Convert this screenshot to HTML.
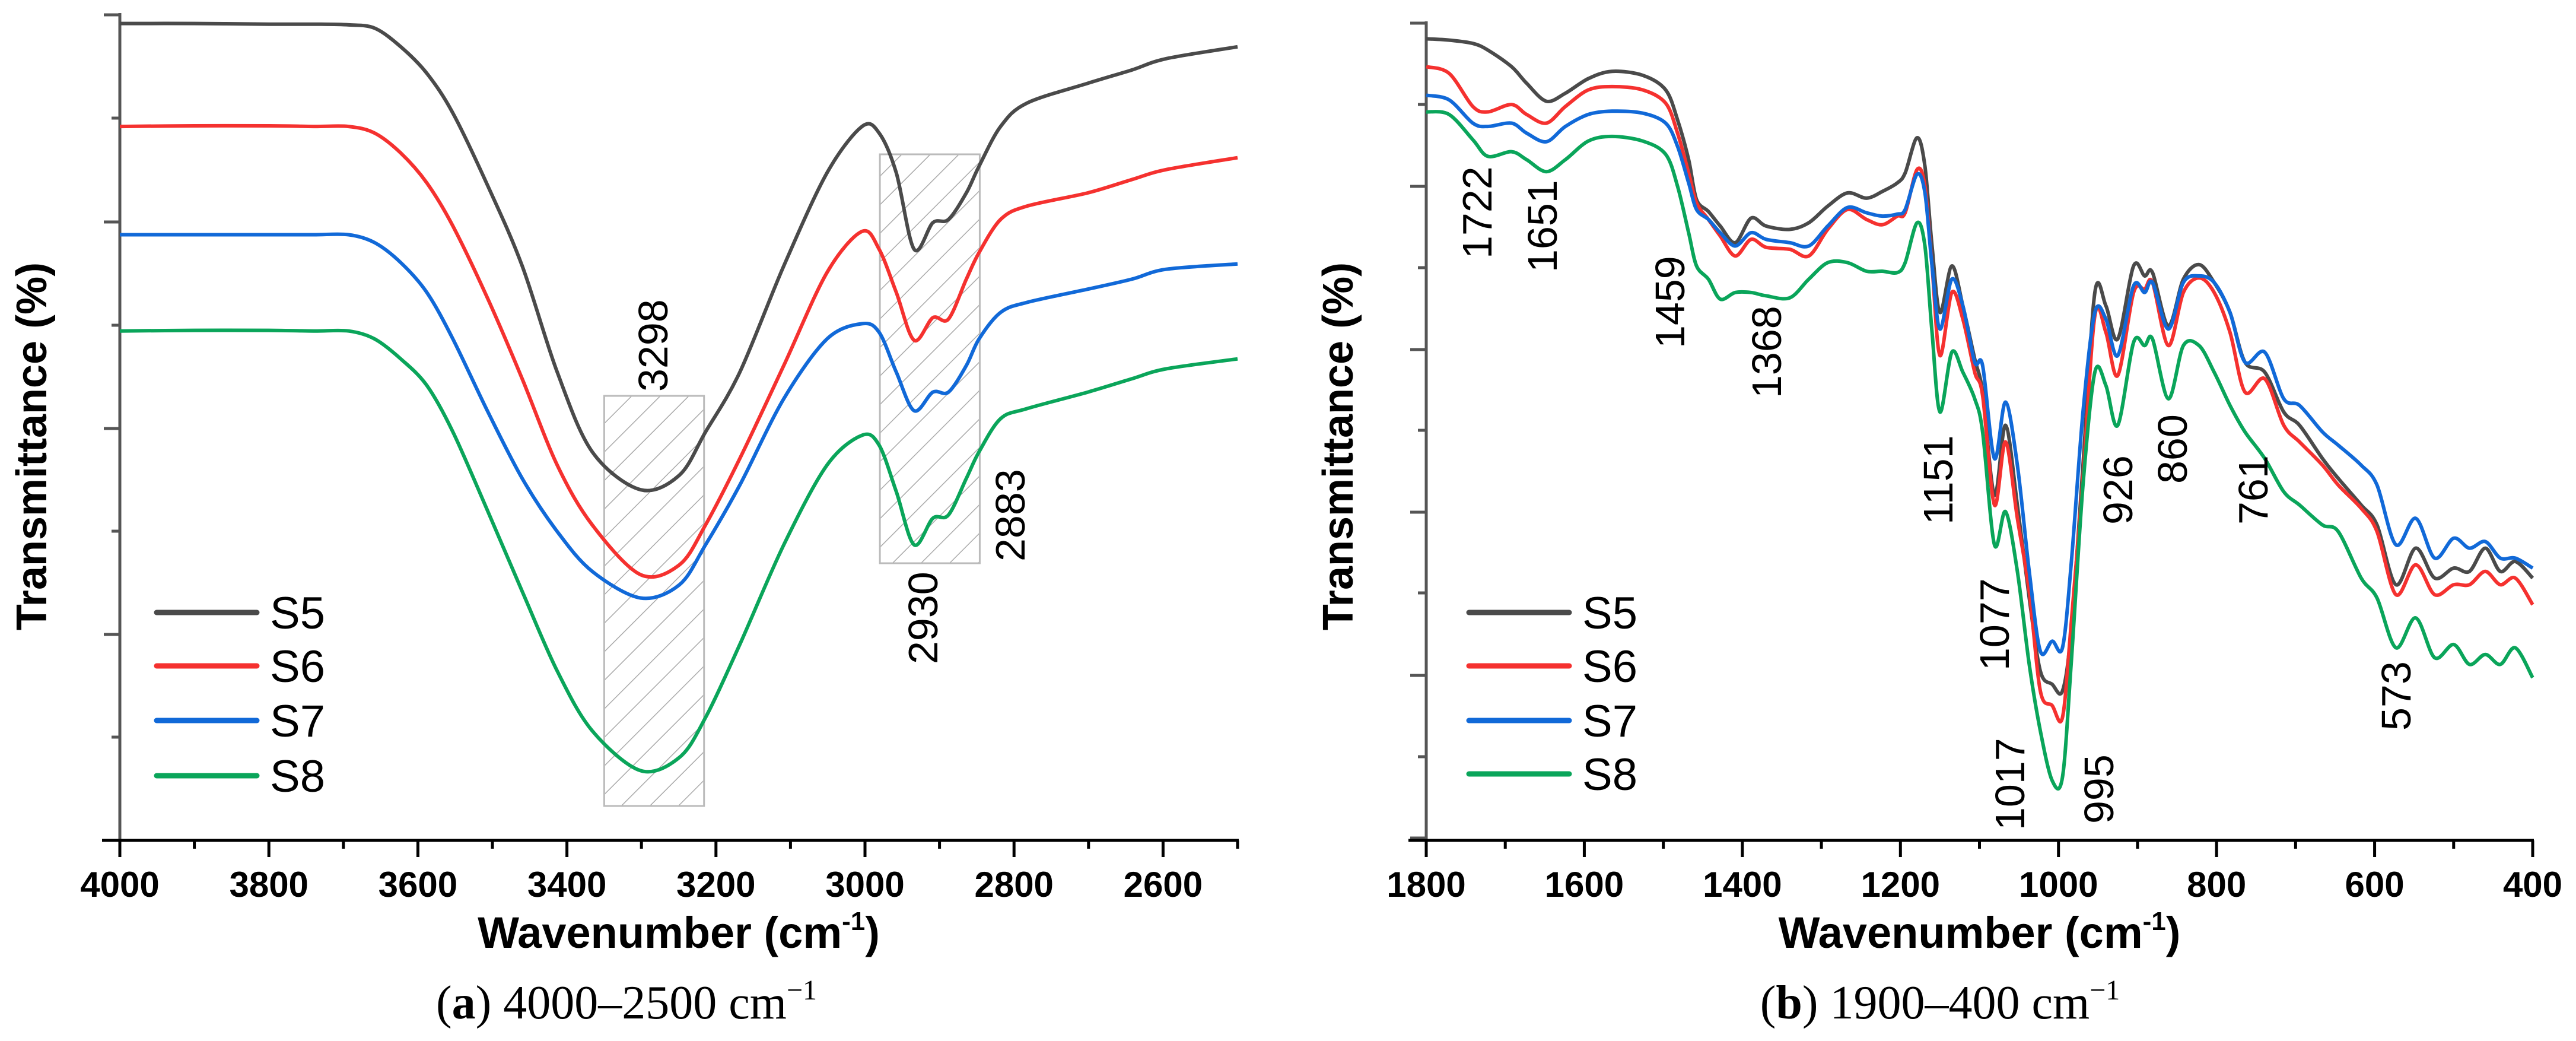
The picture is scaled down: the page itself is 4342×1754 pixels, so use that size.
<!DOCTYPE html>
<html><head><meta charset="utf-8">
<style>
html,body{margin:0;padding:0;background:#fff;}
svg{display:block;}
text{font-family:"Liberation Sans",Arial,sans-serif;}
</style></head>
<body>
<svg id="fig" width="4342" height="1754" viewBox="0 0 4342 1754" xmlns="http://www.w3.org/2000/svg">
<defs>
<pattern id="hatch" patternUnits="userSpaceOnUse" width="34" height="34" patternTransform="rotate(45)">
<line x1="0" y1="0" x2="0" y2="34" stroke="#aaaaaa" stroke-width="3"/>
</pattern>
</defs>
<g id="panelA"></g>
<g id="panelB"></g>
</svg>
<script>
// ---------- Panel A data (4000-2500 cm-1), transmittance in arbitrary units ----------
const aWavenumbers = [4000,3900,3800,3740,3693,3658,3623,3588,3553,3506,3460,3413,3366,3301,3249,3214,3168,3109,3051,3004,2981,2958,2934,2909,2888,2864,2847,2818,2783,2701,2642,2596,2500];
const aS5 = [1230,1230,1229,1229,1228,1223,1195,1155,1095,985,865,705,585,528,550,615,705,865,1005,1075,1065,1005,890,930,935,975,1015,1075,1110,1140,1160,1177,1195];
const aS6 = [1075,1076,1076,1075,1075,1065,1035,990,925,815,695,565,475,400,415,475,575,715,855,917,890,825,753,787,785,845,885,935,955,975,995,1010,1028];
const aS7 = [912,912,912,912,912,900,870,825,755,645,545,465,405,365,385,445,535,665,755,778,765,705,647,675,675,715,755,795,810,830,845,860,868];
const aS8 = [767,768,768,767,767,755,725,685,615,495,375,255,165,105,125,185,295,445,565,610,595,525,445,485,490,545,585,635,650,675,695,710,725];
const aTickLabels = ["4000","3800","3600","3400","3200","3000","2800","2600"];
const aTickValues = [4000,3800,3600,3400,3200,3000,2800,2600];
const aPeakLabels = ["3298","2930","2883"];

// ---------- Panel B data (1800-400 cm-1) ----------
const bWavenumbers = [1800,1771,1741,1722,1692,1673,1648,1624,1595,1565,1526,1497,1482,1468,1458,1443,1428,1409,1389,1370,1340,1316,1292,1267,1243,1223,1204,1194,1179,1169,1160,1150,1135,1121,1106,1096,1081,1067,1052,1037,1023,1008,995,984,969,954,940,925,905,891,881,861,842,822,803,783,764,739,715,695,666,646,617,597,573,548,524,500,480,460,441,422,400];
const bS5 = [1207,1205,1200,1190,1165,1140,1113,1125,1147,1158,1152,1130,1085,1025,965,947,925,900,937,925,920,930,955,975,967,977,990,1005,1058,1015,895,795,865,805,725,675,520,625,505,365,255,235,225,315,565,825,805,755,865,850,855,775,845,867,840,795,720,705,645,625,575,545,505,475,385,440,395,410,405,440,405,420,395];
const bS6 = [1165,1155,1105,1097,1108,1093,1080,1105,1130,1135,1130,1110,1065,1005,960,935,910,880,905,893,890,880,920,950,935,927,940,945,1010,985,865,730,825,785,705,670,505,600,485,375,225,203,185,325,545,790,765,700,825,830,840,745,825,847,825,765,675,695,625,600,565,535,500,465,370,415,370,385,385,405,385,395,355];
const bS7 = [1122,1115,1080,1075,1080,1065,1052,1075,1093,1098,1095,1080,1045,990,950,935,915,895,915,905,900,895,925,953,945,940,943,950,1003,975,865,770,845,805,720,715,575,660,565,405,285,300,290,415,645,795,785,730,835,825,840,770,840,850,840,795,720,735,665,655,615,595,565,535,445,485,425,455,440,450,425,425,410];
const bS8 = [1097,1093,1055,1030,1037,1025,1007,1025,1053,1060,1053,1033,985,915,865,845,815,825,825,820,817,845,870,870,857,857,855,870,930,895,765,645,735,705,665,615,445,495,405,265,165,90,95,265,535,705,685,625,750,745,755,665,745,745,705,655,615,575,525,505,475,465,395,365,290,335,275,295,265,280,265,290,245];
const bTickLabels = ["1800","1600","1400","1200","1000","800","600","400"];
const bTickValues = [1800,1600,1400,1200,1000,800,600,400];
const bPeakLabels = ["1722","1651","1459","1368","1151","1077","1017","995","926","860","761","573"];

const seriesNames = ["S5","S6","S7","S8"];
const seriesColors = ["#4a4a4a","#f5312f","#1169d8","#0aa55a"];

const NS = "http://www.w3.org/2000/svg";
function mk(parent, tag, attrs, txt){
  const e = document.createElementNS(NS, tag);
  for (const k in attrs) e.setAttribute(k, attrs[k]);
  if (txt !== undefined) e.textContent = txt;
  parent.appendChild(e);
  return e;
}
const Y0 = 1416, YK = 1.119;
function yScale(v){ return Y0 - v*YK; }

function smoothPath(pts){
  let d = "M" + pts[0][0].toFixed(1) + "," + pts[0][1].toFixed(1);
  for (let i=0;i<pts.length-1;i++){
    const p0 = pts[Math.max(0,i-1)], p1 = pts[i], p2 = pts[i+1], p3 = pts[Math.min(pts.length-1,i+2)];
    const t = 0.16;
    const c1x = p1[0] + (p2[0]-p0[0])*t, c1y = p1[1] + (p2[1]-p0[1])*t;
    const c2x = p2[0] - (p3[0]-p1[0])*t, c2y = p2[1] - (p3[1]-p1[1])*t;
    d += " C" + c1x.toFixed(1)+","+c1y.toFixed(1)+" "+c2x.toFixed(1)+","+c2y.toFixed(1)+" "+p2[0].toFixed(1)+","+p2[1].toFixed(1);
  }
  return d;
}

function drawPanel(g, cfg){
  const xScale = w => cfg.x0 + (cfg.wMax - w)/(cfg.wMax - cfg.wMin)*(cfg.x1 - cfg.x0);
  const ya = mk(g, "line", {x1:cfg.x0, y1:cfg.yTop-3, x2:cfg.x0, y2:Y0+3, stroke:"#555", "stroke-width":5});
  
  
  cfg.yTicks.forEach((ty,i)=>{
    const len = cfg.yMajor.includes(i) ? 27 : 14;
    const t = mk(g, "line", {x1:cfg.x0-len, y1:ty, x2:cfg.x0, y2:ty, stroke:"#555", "stroke-width":5});
    
    
  });
  const xa = mk(g, "line", {x1:cfg.x0-30, y1:Y0, x2:cfg.x1+2, y2:Y0, stroke:"#000", "stroke-width":5});
  
  
  for (let w = cfg.wMax; w >= cfg.wMin - 0.1; w -= cfg.minorStep){
    const major = Math.abs((cfg.wMax - w) % cfg.majorStep) < 0.1;
    const t = mk(g, "line", {x1:xScale(w), y1:Y0, x2:xScale(w), y2:Y0 + (major?28:14), stroke:"#000", "stroke-width":5});
    
    
  }
  cfg.tickValues.forEach((v,i)=>{
    const t = mk(g, "text", {x:xScale(v), y:1511, "text-anchor":"middle", "font-size":60, "font-weight":"bold", fill:"#000"}, cfg.tickLabels[i]);
    
    
  });
  const xt = mk(g, "text", {x:(cfg.x0+cfg.x1)/2, y:1597, "text-anchor":"middle", "font-size":74, "font-weight":"bold", fill:"#000"});
  
  
  xt.appendChild(document.createTextNode("Wavenumber (cm"));
  mk(xt, "tspan", {"font-size":44, dy:-30}, "-1");
  mk(xt, "tspan", {dy:30}, ")");
  const yt = mk(g, "text", {x:0, y:0, transform:"translate("+cfg.yTitleX+",752) rotate(-90)", "text-anchor":"middle", "font-size":72, "font-weight":"bold", fill:"#000"}, "Transmittance (%)");
  
  
  const cap = mk(g, "text", {x:cfg.capX, y:1716, "text-anchor":"middle", "font-size":80, fill:"#000", style:"font-family:'Liberation Serif',serif"});
  
  
  cap.appendChild(document.createTextNode("("));
  mk(cap, "tspan", {"font-weight":"bold"}, cfg.capLetter);
  cap.appendChild(document.createTextNode(") " + cfg.capRange + " cm"));
  mk(cap, "tspan", {"font-size":48, dy:-32}, "\u22121");
  (cfg.boxes||[]).forEach(b=>{
    const r = mk(g, "rect", {x:xScale(b[0]), y:b[2], width:xScale(b[1])-xScale(b[0]), height:b[3]-b[2], fill:"url(#hatch)", stroke:"#bbb", "stroke-width":3});
    
    
  });
  cfg.series.forEach((s,i)=>{
    const pts = cfg.wn.map((w,j)=>[xScale(w), yScale(s[j])]);
    const p = mk(g, "path", {d:smoothPath(pts), fill:"none", stroke:seriesColors[i], "stroke-width":6, "stroke-linejoin":"round"});
    
    
  });
  cfg.peaks.forEach((lab,i)=>{
    const pos = cfg.peakPos[i];
    const t = mk(g, "text", {x:0, y:0, transform:"translate("+(pos[0]+25)+","+pos[1]+") rotate(-90)", "text-anchor":"start", "font-size":70, fill:"#000"}, lab);
    
    
  });
  seriesNames.forEach((n,i)=>{
    const y = cfg.legY[i];
    const l = mk(g, "line", {x1:cfg.legX0, y1:y, x2:cfg.legX1, y2:y, stroke:seriesColors[i], "stroke-width":9, "stroke-linecap":"round"});
    
    
    const t = mk(g, "text", {x:cfg.legX1+22, y:y+27, "font-size":76, fill:"#000"}, n);
    
    
  });
}

drawPanel(document.getElementById("panelA"), {
  x0:202, x1:2086, wMax:4000, wMin:2500, majorStep:200, minorStep:100, yTop:25,
  yTicks:[25,199,374,548,722,895,1069,1242,1416], yMajor:[0,2,4,6,8],
  tickValues:aTickValues, tickLabels:aTickLabels, yTitleX:78,
  capX:1056, capLetter:"a", capRange:"4000\u20132500",
  boxes:[[3350,3216,667,1358],[2980,2846,260,949]],
  wn:aWavenumbers, series:[aS5,aS6,aS7,aS8],
  peaks:aPeakLabels, peakPos:[[1100,660],[1555,1119],[1702,946]],
  legX0:264, legX1:433, legY:[1032,1122,1214,1307]
});
drawPanel(document.getElementById("panelB"), {
  x0:2404, x1:4269, wMax:1800, wMin:400, majorStep:200, minorStep:100, yTop:39,
  yTicks:[39,176,314,451,589,725,863,999,1138,1275,1412], yMajor:[0,2,4,6,8,10],
  tickValues:bTickValues, tickLabels:bTickLabels, yTitleX:2280,
  capX:3270, capLetter:"b", capRange:"1900\u2013400",
  wn:bWavenumbers, series:[bS5,bS6,bS7,bS8],
  peaks:bPeakLabels,
  peakPos:[[2489,436],[2599,459],[2814,587],[2977,671],[3266,884],[3361,1130],[3387,1399],[3537,1388],[3569,884],[3661,815],[3797,884],[4038,1231]],
  legX0:2476, legX1:2645, legY:[1032,1122,1214,1304]
});
</script>
</body></html>
